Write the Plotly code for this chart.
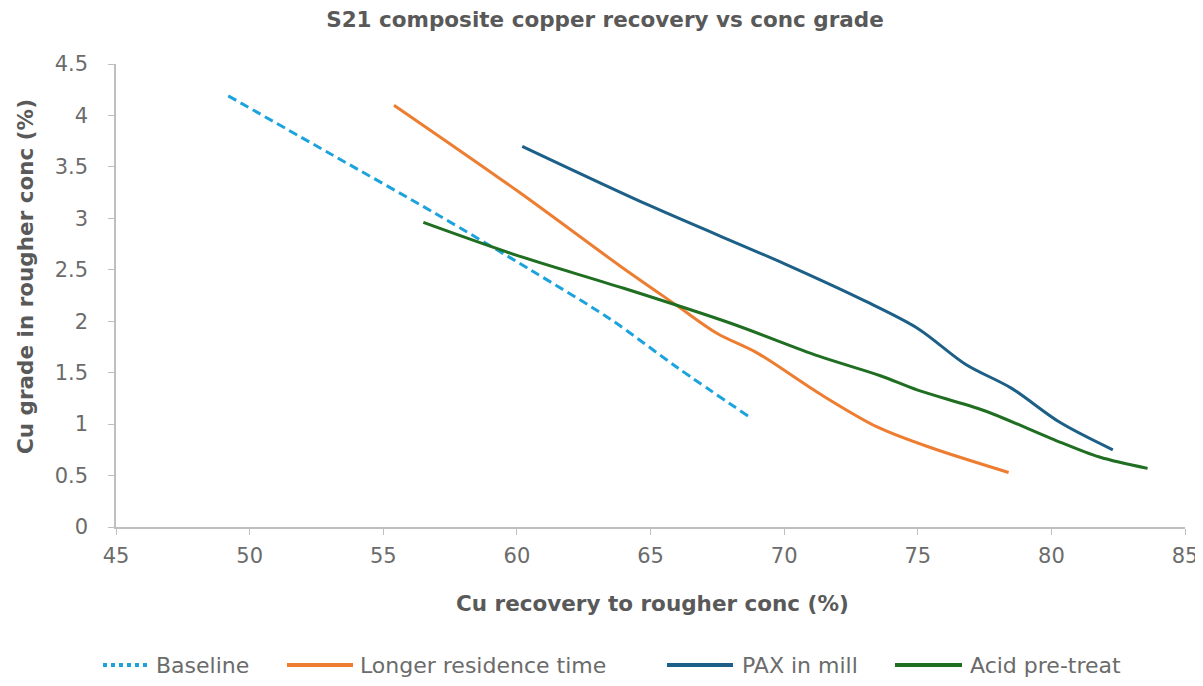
import plotly.graph_objects as go

# Data
baseline_x = [49.2, 53.0, 57.0, 60.5, 63.5, 66.0, 68.7]
baseline_y = [4.19, 3.63, 3.04, 2.50, 2.02, 1.55, 1.07]

longer_x = [55.4, 60.0, 63.9, 66.0, 67.5, 69.0, 71.3, 73.5, 75.5, 78.4]
longer_y = [4.10, 3.27, 2.53, 2.15, 1.88, 1.69, 1.30, 0.97, 0.77, 0.53]

pax_x = [60.2, 65.0, 70.0, 73.0, 75.0, 76.8, 78.5, 80.3, 82.3]
pax_y = [3.70, 3.12, 2.56, 2.20, 1.93, 1.58, 1.35, 1.02, 0.75]

acid_x = [56.5, 60.0, 64.0, 68.0, 71.3, 73.6, 75.0, 77.5, 80.0, 81.8, 83.6]
acid_y = [2.96, 2.64, 2.32, 1.98, 1.66, 1.47, 1.33, 1.13, 0.86, 0.68, 0.57]

x_ticks = [45, 50, 55, 60, 65, 70, 75, 80, 85]
y_ticks = [0, 0.5, 1, 1.5, 2, 2.5, 3, 3.5, 4, 4.5]

series_names = ["Baseline", "Longer residence time", "PAX in mill", "Acid pre-treat"]
series_colors = ["#1CA3DE", "#ED7D31", "#1C5F87", "#1F6E22"]
series_dash = ["9px,5px", "solid", "solid", "solid"]

FONT = "'DejaVu Sans', Verdana, sans-serif"
GRAY = "#595959"
TICKGRAY = "#6b6b6b"

# The page body adds an 8px offset; positions below are in screen pixels
OFF = 8
W, H = 1203, 686
PLOT_L, PLOT_R, PLOT_T, PLOT_B = 116, 1185, 64, 527
L = PLOT_L - OFF
R = W - (PLOT_R - OFF)
T = PLOT_T - OFF
B = H - (PLOT_B - OFF)
PW, PH = W - L - R, H - T - B


def px2paper_x(px):
    return (px - PLOT_L) / PW


def px2paper_y(py):
    return (PLOT_B - py) / PH


fig = go.Figure()
all_x = [baseline_x, longer_x, pax_x, acid_x]
all_y = [baseline_y, longer_y, pax_y, acid_y]
for xs, ys, name, col, dash in zip(all_x, all_y, series_names, series_colors, series_dash):
    fig.add_trace(go.Scatter(x=xs, y=ys, mode="lines", name=name, showlegend=False,
                             line=dict(color=col, width=3, dash=dash, shape="spline", smoothing=0.9)))

# Custom legend (line samples + labels), placed like the reference
legend_lines = [(103, 148), (287, 353), (667, 733), (895, 962)]
legend_text_x = [154, 358, 740, 968]
legend_y = 665
shapes = []
annotations = []
for (x0, x1), tx, name, col, dash in zip(legend_lines, legend_text_x, series_names, series_colors, series_dash):
    shapes.append(dict(type="line", xref="paper", yref="paper",
                       x0=px2paper_x(x0), x1=px2paper_x(x1),
                       y0=px2paper_y(legend_y), y1=px2paper_y(legend_y),
                       line=dict(color=col, width=4, dash="dot" if dash != "solid" else "solid")))
    annotations.append(dict(text=name, xref="paper", yref="paper",
                            x=px2paper_x(tx), y=px2paper_y(legend_y),
                            xanchor="left", yanchor="middle", showarrow=False,
                            font=dict(size=22, color=TICKGRAY, family=FONT)))

# Axis titles
annotations.append(dict(text="<b>Cu recovery to rougher conc (%)</b>", xref="paper", yref="paper",
                        x=px2paper_x(652), y=px2paper_y(603), xanchor="center", yanchor="middle",
                        showarrow=False, font=dict(size=21.5, color=GRAY, family=FONT)))
annotations.append(dict(text="<b>Cu grade in rougher conc (%)</b>", xref="paper", yref="paper",
                        x=px2paper_x(25), y=px2paper_y(277), xanchor="center", yanchor="middle",
                        textangle=-90, showarrow=False, font=dict(size=21.5, color=GRAY, family=FONT)))

fig.update_layout(
    width=W, height=H,
    margin=dict(l=L, r=R, t=T, b=B, autoexpand=False),
    paper_bgcolor="white", plot_bgcolor="white",
    font=dict(family=FONT, color=GRAY, size=19),
    title=dict(text="<b>S21 composite copper recovery vs conc grade</b>",
               x=(605 - OFF) / W, xref="container", xanchor="center",
               y=1 - (19 - OFF) / H, yref="container", yanchor="middle",
               font=dict(size=21.5, color=GRAY, family=FONT)),
    xaxis=dict(range=[45, 85], tickvals=x_ticks, showgrid=False, zeroline=False,
               showline=True, linecolor="#BFBFBF", linewidth=1.5,
               ticks="outside", ticklen=6, tickcolor="#BFBFBF",
               ticklabelstandoff=3,
               tickfont=dict(size=21, color=TICKGRAY)),
    yaxis=dict(range=[0, 4.5], tickvals=y_ticks, showgrid=False, zeroline=False,
               showline=True, linecolor="#BFBFBF", linewidth=1.5,
               ticks="outside", ticklen=6, tickcolor="#BFBFBF",
               ticklabelstandoff=16,
               tickfont=dict(size=21, color=TICKGRAY)),
    shapes=shapes,
    annotations=annotations,
    showlegend=False,
)

fig.write_html("out.html")
